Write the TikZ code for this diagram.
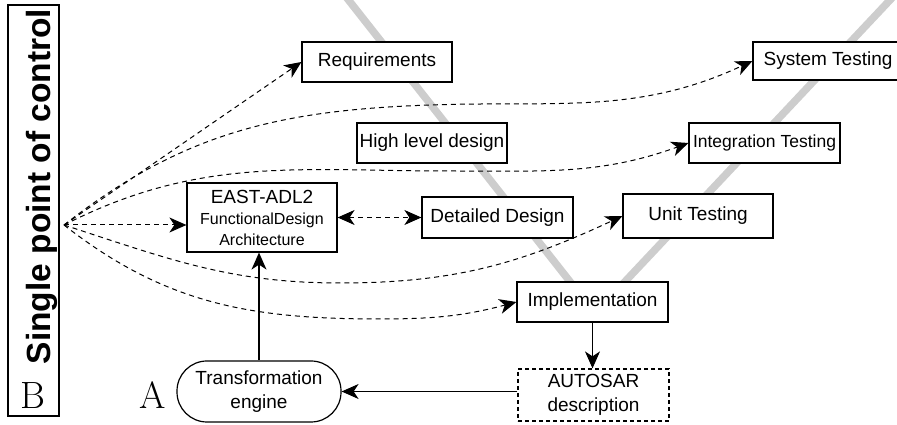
\documentclass[tikz,border=0pt]{standalone}
\usepackage{fontspec}
\newfontfamily\arialfont{Liberation Sans}
\usetikzlibrary{arrows.meta}
\begin{document}
\begin{tikzpicture}[x=1pt,y=1pt,
  box/.style={draw, line width=1.2pt, fill=white, inner sep=0pt, align=center,
    font=\arialfont\fontsize{19}{24}\selectfont},
  headtip/.tip={Stealth[length=17pt,width=15pt,inset=5pt]},
  headarrow/.style={-headtip},
  ctlarrow/.style={line width=1pt, dash pattern=on 5pt off 4pt, headarrow},
  flow/.style={line width=1.2pt, headarrow},
  vline/.style={line width=7.5pt, color={rgb,255:red,205;green,205;blue,205}}]
\useasboundingbox (0,0) rectangle (897,425);

% the V of the development process
\draw[vline] (343,432) -- (575,137);
\draw[vline] (896.6,432) -- (619,137);

% left column: single point of control
\node[draw, line width=1.2pt, minimum width=51pt, minimum height=411pt, inner sep=0pt] (ctlbox) at (33.5,214.5) {};
\node[rotate=90, anchor=base, font=\arialfont\bfseries\fontsize{33.5}{33}\selectfont] (ctltext) at (50,238.5) {Single point of control};
\node[anchor=base, font=\fontsize{38}{38}\selectfont] (lblB) at (33,16) {B};
\node[anchor=base, font=\fontsize{38}{38}\selectfont] (lblA) at (153,16) {A};
\coordinate (src) at (64,200);

% process steps
\node[box, minimum width=150pt, minimum height=40pt] (req) at (377,363) {Requirements};
\node[box, minimum width=150pt, minimum height=40pt] (hld) at (432,282) {High level design};
\node[box, minimum width=150pt, minimum height=69pt, font=\arialfont\fontsize{16}{21}\selectfont] (east) at (262,207.5)
  {{\fontsize{19}{21}\selectfont EAST-ADL2}\\FunctionalDesign\\Architecture};
\node[box, minimum width=151pt, minimum height=41pt] (det) at (497.5,207.5) {Detailed Design};
\node[box, minimum width=150pt, minimum height=38pt] (sys) at (828,364) {System Testing};
\node[box, minimum width=151pt, minimum height=40pt, font=\arialfont\fontsize{17.5}{21}\selectfont] (int) at (764.5,282) {Integration Testing};
\node[box, minimum width=150pt, minimum height=44pt] (unit) at (698,209) {Unit Testing};
\node[box, minimum width=151pt, minimum height=40pt] (impl) at (592.5,123) {Implementation};
\node[box, dash pattern=on 4pt off 3pt, minimum width=151pt, minimum height=52pt] (auto) at (593.5,30) {AUTOSAR\\description};
\node[box, rounded corners=30pt, minimum width=164pt, minimum height=61pt] (trans) at (259,33.5) {Transformation\\engine};

% control links
\draw[ctlarrow] (src) -- (req.west);
\draw[ctlarrow] (src) to[out=38,in=182] (430,320) to[out=2,in=205] (sys.west);
\draw[ctlarrow] (src) to[out=27,in=180] (450,254) to[out=0,in=200] (int.west);
\draw[ctlarrow] (src) -- (src -| east.west);
\draw[ctlarrow] (src) to[out=-18,in=180] (340,142) to[out=0,in=205] (unit.west);
\draw[ctlarrow] (src) to[out=-38,in=180] (380,106) to[out=0,in=195] (impl.west);

% tool chain
\draw[line width=1pt, dash pattern=on 5pt off 4pt, headtip-headtip] (det.west -| east.east) -- (det.west);
\draw[flow] (impl.south) -- (impl.south |- auto.north);
\draw[flow] (trans.east -| auto.west) -- (trans.east);
\draw[flow] (trans.north) -- (trans.north |- east.south);
\end{tikzpicture}
\end{document}
